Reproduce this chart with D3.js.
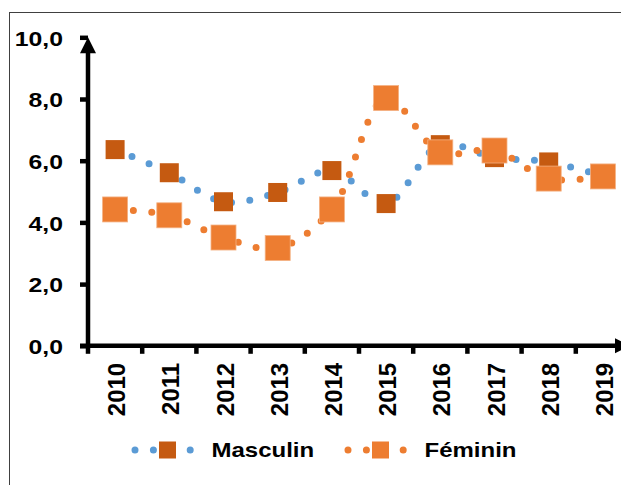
<!DOCTYPE html>
<html>
<head>
<meta charset="utf-8">
<script src="https://cdn.jsdelivr.net/npm/d3@7"></script>
<style>
  html, body { margin: 0; padding: 0; background: #fff; }
  svg { display: block; }
  text { font-family: "Liberation Sans", Arial, sans-serif; font-weight: bold; fill: #000; }
</style>
</head>
<body>
<svg id="chart" width="621" height="485"></svg>
<script>
const years = ["2010","2011","2012","2013","2014","2015","2016","2017","2018","2019"];
const masculin = [6.36, 5.61, 4.67, 4.97, 5.68, 4.61, 6.52, 6.10, 5.96, 5.50];
const feminin  = [4.42, 4.23, 3.51, 3.17, 4.42, 8.03, 6.27, 6.33, 5.42, 5.49];
const yTicks = [0, 2, 4, 6, 8, 10];
const seriesNames = ["Masculin", "Féminin"];

const BLUE = "#5B9BD5", DARK = "#C55A11", ORANGE = "#ED7D31";

const svg = d3.select("#chart");

// chart frame
svg.append("rect").attr("x", 9.5).attr("y", 12.5).attr("width", 700).attr("height", 600)
  .attr("fill", "none").attr("stroke", "#404040").attr("stroke-width", 1);

const x = d3.scaleBand().domain(years).range([88, 630]).padding(0);
const y = d3.scaleLinear().domain([0, 10]).range([345.8, 37.3]);
const cx = d => x(d) + x.bandwidth() / 2;

// Y axis (labels + ticks)
const yAxis = d3.axisLeft(y).tickValues(yTicks).tickSize(8).tickSizeOuter(0)
  .tickFormat(d => d3.format(".1f")(d).replace(".", ","));
const gy = svg.append("g").attr("transform", "translate(88,0)").call(yAxis);
gy.select(".domain").remove();
gy.selectAll(".tick line").attr("stroke", "#000").attr("stroke-width", 4.5);
gy.selectAll(".tick text")
  .attr("x", 0).attr("dy", null).attr("y", 7.8)
  .attr("text-anchor", "end")
  .attr("transform", "translate(-25,0) scale(1.24,1)")
  .style("font-size", "20px").style("font-family", "Liberation Sans, Arial, sans-serif")
  .style("font-weight", "bold");

// X axis labels
const xAxis = d3.axisBottom(x).tickSize(0).tickSizeOuter(0);
const gx = svg.append("g").attr("transform", "translate(0,345.8)").call(xAxis);
gx.select(".domain").remove();
gx.selectAll(".tick text")
  .attr("y", 0).attr("dy", null).attr("x", 0)
  .attr("text-anchor", "end")
  .attr("transform", "translate(10,17) rotate(-90)")
  .style("font-size", "24px").style("font-family", "Liberation Sans, Arial, sans-serif")
  .style("font-weight", "bold");

// X ticks at category boundaries
svg.append("g").selectAll("line").data(years).join("line")
  .attr("x1", d => x(d)).attr("x2", d => x(d))
  .attr("y1", y(0)).attr("y2", y(0) + 8)
  .attr("stroke", "#000").attr("stroke-width", 4.5);

// axis lines with arrows
const x0 = x.range()[0], x1 = x.range()[1];
const y0 = y(0), yTop = y(10);
svg.append("line").attr("x1", x0).attr("x2", x0).attr("y1", y0 + 2).attr("y2", yTop + 12)
  .attr("stroke", "#000").attr("stroke-width", 4.5);
svg.append("path").attr("d", `M${x0},${yTop} L${x0 - 8},${yTop + 16} L${x0 + 8},${yTop + 16} Z`).attr("fill", "#000");
svg.append("line").attr("x1", x0 - 8).attr("x2", x1 - 12).attr("y1", y0).attr("y2", y0)
  .attr("stroke", "#000").attr("stroke-width", 4.5);
svg.append("path").attr("d", `M${x1},${y0} L${x1 - 15},${y0 - 7.5} L${x1 - 15},${y0 + 7.5} Z`).attr("fill", "#000");

// series
const line = d3.line().x(d => cx(d.year)).y(d => y(d.v)).curve(d3.curveCatmullRom.alpha(0.5));
const series = [
  { name: seriesNames[0], vals: masculin, lineColor: BLUE, markColor: DARK, size: 19, stroke: "none" },
  { name: seriesNames[1], vals: feminin, lineColor: ORANGE, markColor: ORANGE, size: 25, stroke: "#F4B183" }
];
series.forEach(s => {
  const pts = years.map((yr, i) => ({ year: yr, v: s.vals[i] }));
  svg.append("path").datum(pts).attr("d", line)
    .attr("fill", "none").attr("stroke", s.lineColor).attr("stroke-width", 7)
    .attr("stroke-linecap", "round").attr("stroke-dasharray", "0 18.4");
  svg.append("g").selectAll("rect").data(pts).join("rect")
    .attr("x", d => cx(d.year) - s.size / 2).attr("y", d => y(d.v) - s.size / 2)
    .attr("width", s.size).attr("height", s.size)
    .attr("fill", s.markColor).attr("stroke", s.stroke).attr("stroke-width", s.stroke === "none" ? 0 : 0.8);
});

// legend
const legend = [
  { name: seriesNames[0], lx: 135, tx: 211.5, lineColor: BLUE, markColor: DARK },
  { name: seriesNames[1], lx: 348, tx: 424.5, lineColor: ORANGE, markColor: ORANGE }
];
const ly = 450;
legend.forEach(l => {
  svg.append("path").attr("d", `M${l.lx},${ly} L${l.lx + 65},${ly}`)
    .attr("stroke", l.lineColor).attr("stroke-width", 7).attr("stroke-linecap", "round")
    .attr("stroke-dasharray", "0 18.4").attr("fill", "none");
  svg.append("rect").attr("x", l.lx + 32.5 - 8.5).attr("y", ly - 8.5).attr("width", 17).attr("height", 17)
    .attr("fill", l.markColor);
  svg.append("text").attr("transform", `translate(${l.tx},457.3) scale(1.2,1)`)
    .style("font-size", "20px").text(l.name);
});
</script>
</body>
</html>
